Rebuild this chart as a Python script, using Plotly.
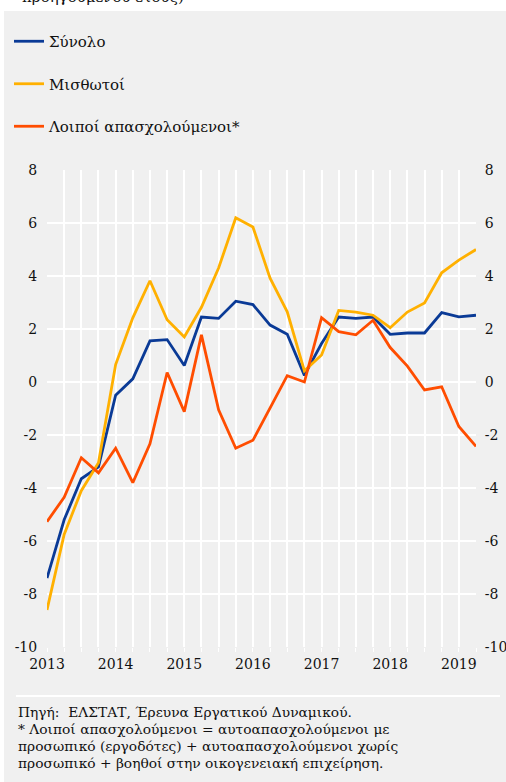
import plotly.graph_objects as go

quarters = [2013 + i / 4 for i in range(26)]
synolo = [-7.4, -5.2, -3.65, -3.2, -0.5, 0.12, 1.55, 1.6, 0.62, 2.45, 2.4, 3.05, 2.92, 2.15, 1.8, 0.25,
          1.45, 2.45, 2.4, 2.45, 1.8, 1.85, 1.85, 2.62, 2.46, 2.52]
misthotoi = [-8.6, -5.75, -4.1, -3.05, 0.66, 2.42, 3.82, 2.35, 1.7, 2.82, 4.3, 6.2, 5.85, 3.92, 2.65, 0.42,
             1.02, 2.7, 2.64, 2.52, 2.05, 2.64, 2.98, 4.12, 4.6, 5.0]
loipoi = [-5.27, -4.35, -2.86, -3.43, -2.5, -3.8, -2.33, 0.36, -1.12, 1.78, -1.05, -2.5, -2.2, -0.95, 0.24, 0.0,
          2.43, 1.9, 1.78, 2.33, 1.3, 0.6, -0.3, -0.18, -1.68, -2.43]
year_ticks = [2013, 2014, 2015, 2016, 2017, 2018, 2019]
y_ticks = [8, 6, 4, 2, 0, -2, -4, -6, -8, -10]
y_ticktext = ["8", "6", "4", "2", "0", "-2", "-4", "-6", "-8", "-10"]

series_names = ["Σύνολο", "Μισθωτοί", "Λοιποί απασχολούμενοι*"]
series_colors = ["#0a3a96", "#ffb000", "#ff4d00"]
footer_lines = [
    "Πηγή:  ΕΛΣΤΑΤ, Έρευνα Εργατικού Δυναμικού.",
    "* Λοιποί απασχολούμενοι = αυτοαπασχολούμενοι με",
    "προσωπικό (εργοδότες) + αυτοαπασχολούμενοι χωρίς",
    "προσωπικό + βοηθοί στην οικογενειακή επιχείρηση.",
]

W, H = 506, 782
L, R, T, B = 47, 476, 170, 647
PW, PH = R - L, B - T
FONT = "DejaVu Serif, serif"


def px(x):
    return (x - L) / PW


def py(y):
    return (B - y) / PH


fig = go.Figure()
for name, vals, col in zip(series_names, [synolo, misthotoi, loipoi], series_colors):
    fig.add_trace(go.Scatter(x=quarters, y=vals, mode="lines", name=name,
                             line=dict(color=col, width=2.8), legendgroup=name))
fig.add_trace(go.Scatter(x=quarters, y=synolo, mode="lines", yaxis="y2", showlegend=False,
                         line=dict(color="rgba(0,0,0,0)", width=0), hoverinfo="skip"))

fig.update_layout(
    width=W, height=H,
    margin=dict(l=L, r=W - R, t=T, b=H - B, pad=0, autoexpand=False),
    paper_bgcolor="white",
    plot_bgcolor="#f2f2f2",
    font=dict(family=FONT, size=14, color="#111111"),
    showlegend=True,
    legend=dict(x=px(9), y=py(25), xanchor="left", yanchor="top",
                bgcolor="rgba(0,0,0,0)", font=dict(size=15, family=FONT, color="#111"),
                tracegroupgap=20, itemwidth=30),
    xaxis=dict(range=[2013, 2019.25], tickvals=year_ticks, ticktext=[str(y) for y in year_ticks],
               showgrid=True, gridcolor="white", gridwidth=1.5, automargin=False,
               minor=dict(dtick=0.25, tick0=2013, showgrid=True, gridcolor="white", gridwidth=1.5,
                          ticks="outside", ticklen=4, tickcolor="white"),
               ticks="outside", ticklen=4, tickcolor="white", zeroline=False, showline=False,
               tickfont=dict(size=14, family=FONT)),
    yaxis=dict(range=[-10, 8], tickvals=y_ticks, ticktext=y_ticktext, showgrid=True, gridcolor="white",
               gridwidth=1.5, zeroline=False, ticks="outside", ticklen=6, tickcolor="rgba(0,0,0,0)",
               automargin=False, tickfont=dict(size=14, family=FONT)),
    yaxis2=dict(range=[-10, 8], tickvals=y_ticks, ticktext=y_ticktext, overlaying="y", side="right",
                showgrid=False, zeroline=False, ticks="outside", ticklen=5, tickcolor="rgba(0,0,0,0)",
                automargin=False, tickfont=dict(size=14, family=FONT)),
    shapes=[
        dict(type="rect", xref="paper", yref="paper", x0=px(4), x1=px(507),
             y0=py(783), y1=py(11), fillcolor="#f0f0f0", line=dict(width=0),
             layer="below"),
        dict(type="line", xref="paper", yref="paper", x0=px(16), x1=px(500),
             y0=py(696), y1=py(696), line=dict(color="white", width=2)),
    ],
)

annotations = [dict(text="προηγούμενου έτους)", xref="paper", yref="paper",
                    x=px(20), y=py(-3), xanchor="left", yanchor="middle",
                    showarrow=False, font=dict(size=15, family=FONT, color="#111"))]
for i, line in enumerate(footer_lines):
    annotations.append(dict(text=line, xref="paper", yref="paper", x=px(16),
                            y=py(712 + i * 17), xanchor="left", yanchor="middle",
                            showarrow=False, font=dict(size=13.8, family=FONT, color="#111")))
fig.update_layout(annotations=annotations)

fig.write_html("out.html", config={"displayModeBar": False},
               post_script="document.body.style.margin='0';")
